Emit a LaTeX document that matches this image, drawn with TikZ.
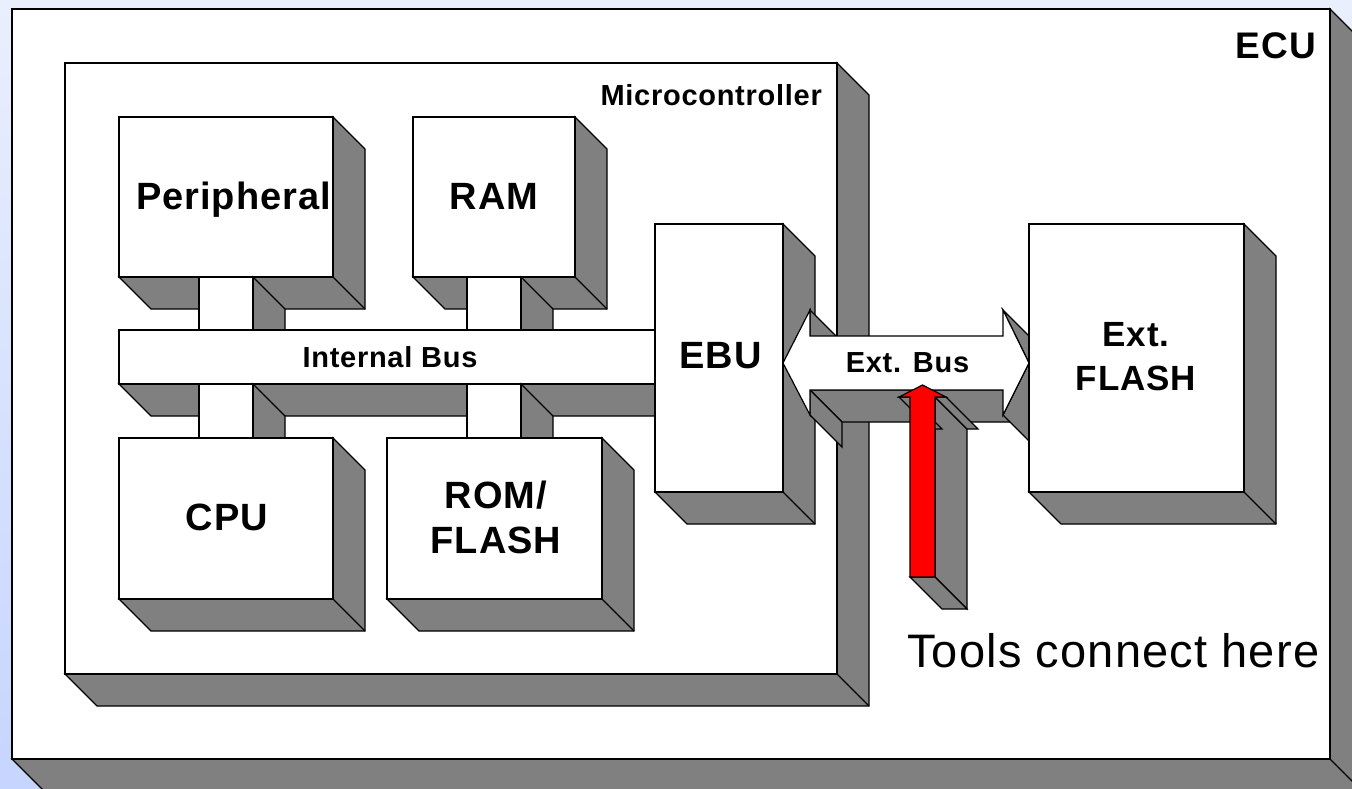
\documentclass[tikz,border=0pt]{standalone}
\usepackage{fontspec}
\setmainfont{Liberation Sans}[LetterSpace=2.5]
\definecolor{slabgrey}{HTML}{808080}
\definecolor{bgtop}{RGB}{234,239,253}
\definecolor{bgbot}{RGB}{198,213,255}
\definecolor{toolred}{HTML}{FF0000}
\tikzset{
  edge/.style={draw=black, line width=1.2pt, line join=miter},
  front/.style={edge, fill=white},
  side/.style={edge, fill=slabgrey},
  lbl/.style={font=\bfseries\fontsize{38}{45}\selectfont, inner sep=0pt, align=center},
  small lbl/.style={font=\bfseries\fontsize{29}{34}\selectfont, inner sep=0pt},
}
% extruded box: front face (x1,y1)-(x2,y2), depth d towards bottom right
\newcommand\threedbox[5]{%
  \path[side] (#3,#2) -- (#3+#5,#2+#5) -- (#3+#5,#4+#5) -- (#1+#5,#4+#5)
              -- (#1,#4) -- (#3,#4) -- cycle;
  \draw[edge] (#3,#4) -- (#3+#5,#4+#5);
  \path[front] (#1,#2) rectangle (#3,#4);
}
\begin{document}
\begin{tikzpicture}[x=1pt,y=-1pt]
\useasboundingbox (0,0) rectangle (1352,789);
\clip (0,0) rectangle (1352,789);
\shade[top color=bgtop, bottom color=bgbot] (0,0) rectangle (1352,789);

% enclosures
\threedbox{12}{9}{1330}{759}{32}
\threedbox{65}{63}{837}{674}{32}

% upper blocks and their bus stubs
\threedbox{119}{117}{333}{277}{32}
\threedbox{413}{117}{575}{277}{32}
\threedbox{199}{277}{253}{330}{32}
\threedbox{467}{277}{521}{330}{32}

% internal bus
\threedbox{119}{330}{655}{384}{32}

% lower stubs and blocks
\threedbox{199}{384}{253}{438}{32}
\threedbox{467}{384}{521}{438}{32}
\threedbox{119}{438}{333}{599}{32}
\threedbox{387}{438}{602}{599}{32}

% external bus unit
\threedbox{655}{224}{783}{492}{32}

% external bus: double arrow with its visible side faces
\path[side] (810,310) -- (810,336) -- (842,368) -- (842,342) -- cycle;
\path[side] (1003,390) -- (810,390) -- (842,422) -- (1035,422) -- cycle;
\path[side] (810,390) -- (810,415) -- (842,447) -- (842,422) -- cycle;
\path[side] (1003,310) -- (1029,363) -- (1061,395) -- (1035,342) -- cycle;
\path[side] (1029,363) -- (1003,415) -- (1035,447) -- (1061,395) -- cycle;
\path[front] (783,363) -- (810,310) -- (810,336) -- (1003,336) -- (1003,310)
  -- (1029,363) -- (1003,415) -- (1003,390) -- (810,390) -- (810,415) -- cycle;

% external flash
\threedbox{1029}{224}{1244}{492}{32}

% tool access arrow
\path[side] (935,397) -- (935,577) -- (967,609) -- (967,429) -- cycle;
\path[side] (910,577) -- (935,577) -- (967,609) -- (942,609) -- cycle;
\path[side] (935,397) -- (946,397) -- (978,429) -- (967,429) -- cycle;
\path[side] (899,397) -- (910,397) -- (942,429) -- (931,429) -- cycle;
\path[edge, fill=toolred] (922.5,385) -- (946,397) -- (935,397) -- (935,577)
  -- (910,577) -- (910,397) -- (899,397) -- cycle;

% labels
\node[lbl, font=\bfseries\fontsize{37}{44}\selectfont, anchor=base east] (ecu) at (1316,59) {ECU};
\node[small lbl, anchor=base east] (mcu) at (822,106) {Microcontroller};
\node[lbl, anchor=base] (periph) at (233.5,209) {Peripheral};
\node[lbl, anchor=base] (ram) at (494,209) {RAM};
\node[small lbl, anchor=base] (ibus) at (390,367) {Internal Bus};
\node[lbl, anchor=base] (cpu) at (227,530) {CPU};
\node[lbl, anchor=center] (rom) at (496,517) {ROM/\\FLASH};
\node[lbl, anchor=base] (ebu) at (720.5,368) {EBU};
\node[small lbl, anchor=base] (ebus) at (907.5,372) {Ext. Bus};
\node[lbl, font=\bfseries\fontsize{35}{44}\selectfont, anchor=center] (flash) at (1136,357) {Ext.\\FLASH};
\node[inner sep=0pt, font=\fontsize{47}{56}\selectfont, anchor=base west] (tools) at (907,667) {Tools connect here};
\end{tikzpicture}
\end{document}
